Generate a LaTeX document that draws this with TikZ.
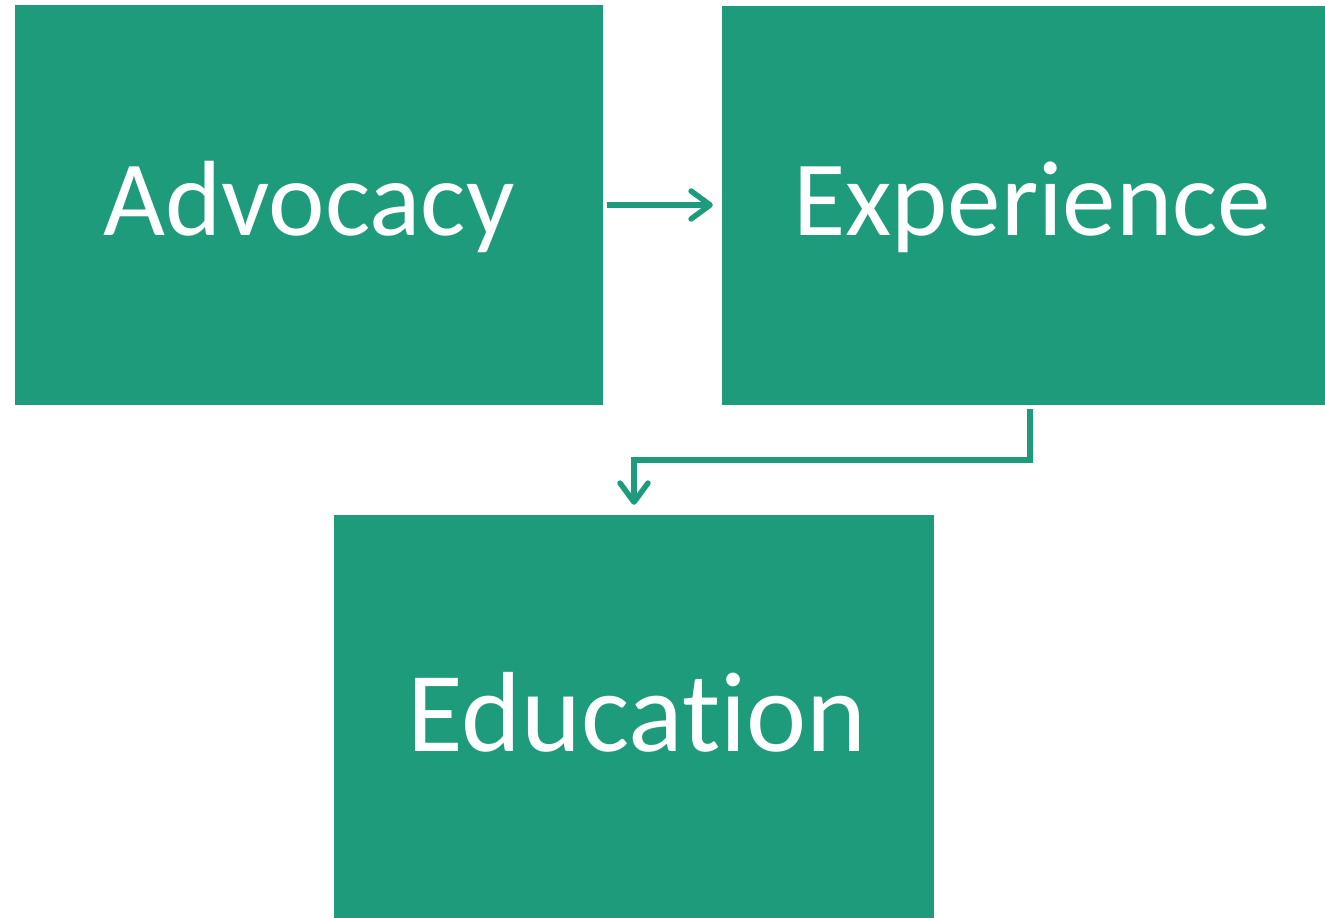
\documentclass[tikz,border=0pt]{standalone}
\usepackage{fontspec}
\setmainfont{Carlito}[Ligatures={NoCommon}]
\usetikzlibrary{arrows.meta}
\definecolor{teal1}{RGB}{30,155,123}
\begin{document}
\begin{tikzpicture}[x=1pt,y=-1pt,
  box/.style={fill=teal1, draw=none, inner sep=0pt, text=white,
    font=\fontsize{107}{112}\selectfont, text height=67pt, text depth=7pt},
  conn/.style={draw=teal1, line width=5.5pt,
    -{Straight Barb[length=19pt,width=28pt,round]}}]
\useasboundingbox (0,0) rectangle (1325,918);
\node[box, minimum width=588pt, minimum height=400pt] (adv) at (309,205) {Advocacy};
\node[box, minimum width=603pt, minimum height=399pt] (exp) at (1023.5,205.5) {\hspace*{17pt}Experience};
\node[box, minimum width=600pt, minimum height=403pt, text height=69pt, text depth=0pt,
  font=\fontsize{114}{120}\selectfont] (edu) at (634,716.5) {\hspace*{6pt}Education};
\draw[conn, shorten <=4pt, shorten >=9pt] (adv.east) -- (adv.east -| exp.west);
\draw[conn, line join=miter] ([xshift=6.5pt,yshift=-4pt]exp.south) -- ++(0,51) -| ([yshift=10pt]edu.north);
\end{tikzpicture}
\end{document}
